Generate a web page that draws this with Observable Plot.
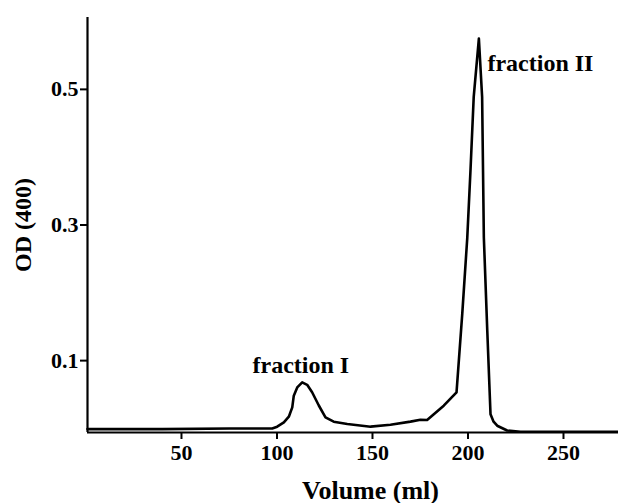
<!DOCTYPE html>
<html>
<head>
<meta charset="utf-8">
<script src="https://cdn.jsdelivr.net/npm/d3@7"></script>
<script src="https://cdn.jsdelivr.net/npm/@observablehq/plot@0.6"></script>
<style>
  html, body { margin: 0; padding: 0; background: #fff; }
</style>
</head>
<body>
<div id="chart"></div>
<script>
// Elution profile: volume (ml) vs OD(400)
const volume = [0.8, 40, 75, 95, 97.5, 100.1, 103.6, 106.2, 108.0, 108.8, 110.6, 113.2, 115.8, 118.4, 121.9, 125.4, 129.7, 136.8, 149, 159.4, 169.9, 175.1, 178.6, 187.3, 194.0, 197.0, 199.6, 201.3, 203.0, 205.7, 207.4, 208.3, 210.1, 211.8, 213.4, 215.3, 220.5, 227.5, 278.8];
const od     = [-0.001, -0.001, 0.000, 0.000, 0.000, 0.0026, 0.0089, 0.0173, 0.031, 0.0483, 0.0605, 0.068, 0.0643, 0.0534, 0.0338, 0.0163, 0.0099, 0.0065, 0.0026, 0.0055, 0.010, 0.0129, 0.0125, 0.0336, 0.0532, 0.169, 0.280, 0.380, 0.489, 0.575, 0.489, 0.282, 0.144, 0.021, 0.010, 0.004, -0.003, -0.005, -0.005];

const xTicks = [50, 100, 150, 200, 250];
const yTicks = [0.1, 0.3, 0.5];
const xDomain = [0.8, 278.8];
const yDomain = [-0.006, 0.606];

const labelText = ["fraction I", "fraction II"];
const labelX = [112.5, 210.2];
const labelY = [0.082, 0.527];
const labelAnchor = ["middle", "start"];

const xTitle = "Volume (ml)";
const yTitle = "OD (400)";

const data = volume.map((v, i) => ({volume: v, od: od[i]}));
const labels = labelText.map((t, i) => ({text: t, x: labelX[i], y: labelY[i], anchor: labelAnchor[i]}));

const font = "'Liberation Serif', 'Times New Roman', serif";

const chart = Plot.plot({
  width: 618,
  height: 503,
  marginLeft: 87,
  marginRight: 0,
  marginTop: 17,
  marginBottom: 71,
  style: {fontFamily: font, fontWeight: "bold", background: "#fff", color: "#000"},
  x: {domain: xDomain},
  y: {domain: yDomain},
  marks: [
    Plot.axisX({ticks: xTicks, tickSize: 7, tickPadding: 5, fontSize: 22, fontWeight: "bold", strokeWidth: 2, tickFormat: d3.format("d"), label: null}),
    Plot.axisY({ticks: yTicks, tickSize: 7, tickPadding: 2, fontSize: 22, fontWeight: "bold", strokeWidth: 2, tickFormat: d3.format(".1f"), label: null}),
    Plot.ruleX([xDomain[0]], {stroke: "#000", strokeWidth: 2.2}),
    Plot.ruleY([yDomain[0]], {stroke: "#000", strokeWidth: 2.2}),
    Plot.line(data, {x: "volume", y: "od", stroke: "#000", strokeWidth: 2.6, strokeLinejoin: "round"}),
    Plot.text(labels.filter(d => d.anchor === "middle"), {x: "x", y: "y", text: "text", textAnchor: "middle", lineAnchor: "bottom", fontSize: 24, fontWeight: "bold", fill: "#000"}),
    Plot.text(labels.filter(d => d.anchor === "start"), {x: "x", y: "y", text: "text", textAnchor: "start", lineAnchor: "bottom", fontSize: 24, fontWeight: "bold", fill: "#000"}),
    Plot.text([xTitle], {frameAnchor: "bottom", dx: 17.5, dy: 66, textAnchor: "middle", lineAnchor: "bottom", fontSize: 26, fontWeight: "bold", fill: "#000"}),
    Plot.text([yTitle], {frameAnchor: "left", dx: -64, rotate: -90, textAnchor: "middle", lineAnchor: "middle", fontSize: 24, fontWeight: "bold", fill: "#000"})
  ]
});

document.getElementById("chart").appendChild(chart);
</script>
</body>
</html>
